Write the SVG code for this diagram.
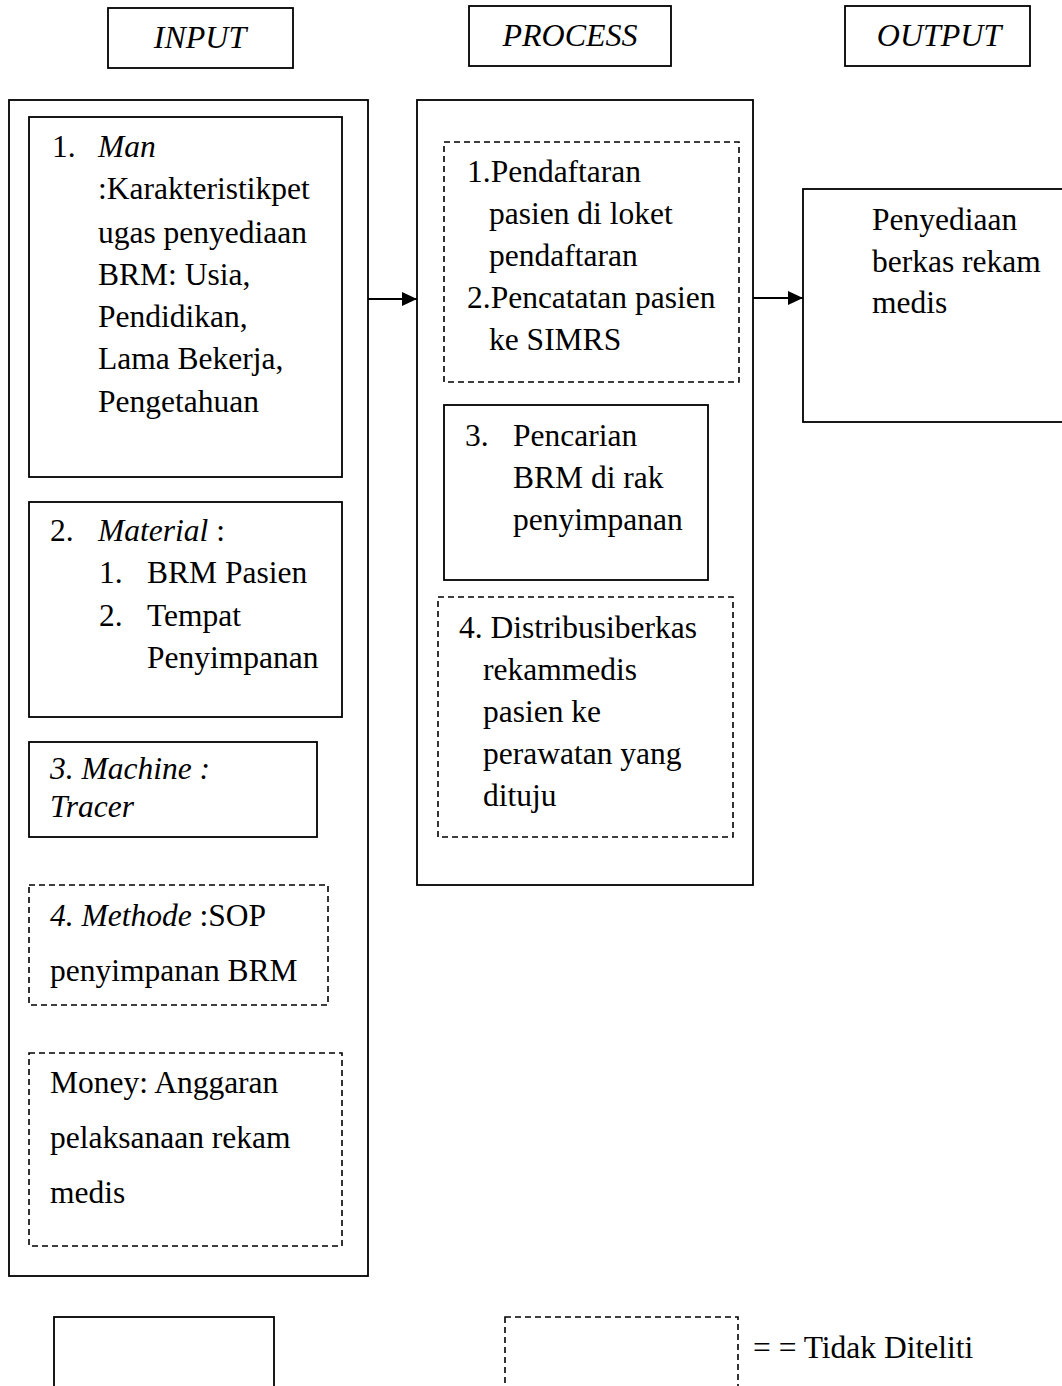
<svg xmlns="http://www.w3.org/2000/svg" width="1062" height="1386" viewBox="0 0 1062 1386">
<style>
  text { font-family: "Liberation Serif", "Times New Roman", serif; font-size: 31.5px; fill: #000; }
  .it { font-style: italic; }
  .hd { font-style: italic; font-size: 32px; text-anchor: middle; }
  .box { fill: #fff; stroke: #000; stroke-width: 1.8; }
  .dash { fill: #fff; stroke: #000; stroke-width: 1.6; stroke-dasharray: 6 4; }
  .conn { stroke: #000; stroke-width: 2; fill: none; }
</style>
<defs>
  <marker id="arr" markerWidth="16" markerHeight="16" refX="15" refY="8" orient="auto" markerUnits="userSpaceOnUse">
    <path d="M0,1 L15,8 L0,15 Z" fill="#000"/>
  </marker>
</defs>
<rect width="1062" height="1386" fill="#fff"/>

<g id="hdr-input"><rect class="box" x="108" y="8" width="185" height="60"/><text class="hd" x="200" y="48">INPUT</text></g>
<g id="hdr-process"><rect class="box" x="469" y="6" width="202" height="60"/><text class="hd" x="570" y="46">PROCESS</text></g>
<g id="hdr-output"><rect class="box" x="845" y="6" width="185" height="60"/><text class="hd" x="939" y="46">OUTPUT</text></g>

<g id="input-frame"><rect class="box" x="9" y="100" width="359" height="1176"/></g>

<g id="input-man">
  <rect class="box" x="29" y="117" width="313" height="360"/>
  <text x="52" y="157">1.</text>
  <text x="98" y="157" class="it">Man</text>
  <text x="98" y="199">:Karakteristikpet</text>
  <text x="98" y="243">ugas penyediaan</text>
  <text x="98" y="285">BRM: Usia,</text>
  <text x="98" y="327">Pendidikan,</text>
  <text x="98" y="369">Lama Bekerja,</text>
  <text x="98" y="412">Pengetahuan</text>
</g>

<g id="input-material">
  <rect class="box" x="29" y="502" width="313" height="215"/>
  <text x="50" y="541">2.</text>
  <text x="98" y="541"><tspan class="it">Material</tspan> :</text>
  <text x="99" y="583">1.</text>
  <text x="147" y="583">BRM Pasien</text>
  <text x="99" y="626">2.</text>
  <text x="147" y="626">Tempat</text>
  <text x="147" y="668">Penyimpanan</text>
</g>

<g id="input-machine">
  <rect class="box" x="29" y="742" width="288" height="95"/>
  <text x="50" y="779" class="it">3. Machine :</text>
  <text x="50" y="817" class="it">Tracer</text>
</g>

<g id="input-methode">
  <rect class="dash" x="29" y="885" width="299" height="120"/>
  <text x="50" y="926"><tspan class="it">4. Methode</tspan> :SOP</text>
  <text x="50" y="981">penyimpanan BRM</text>
</g>

<g id="input-money">
  <rect class="dash" x="29" y="1053" width="313" height="193"/>
  <text x="50" y="1093">Money: Anggaran</text>
  <text x="50" y="1148">pelaksanaan rekam</text>
  <text x="50" y="1203">medis</text>
</g>

<g id="process-frame"><rect class="box" x="417" y="100" width="336" height="785"/></g>

<g id="process-12">
  <rect class="dash" x="444" y="142" width="295" height="240"/>
  <text x="467" y="182">1.Pendaftaran</text>
  <text x="489" y="224">pasien di loket</text>
  <text x="489" y="266">pendaftaran</text>
  <text x="467" y="308">2.Pencatatan pasien</text>
  <text x="489" y="350">ke SIMRS</text>
</g>

<g id="process-3">
  <rect class="box" x="444" y="405" width="264" height="175"/>
  <text x="465" y="446">3.</text>
  <text x="513" y="446">Pencarian</text>
  <text x="513" y="488">BRM di rak</text>
  <text x="513" y="530">penyimpanan</text>
</g>

<g id="process-4">
  <rect class="dash" x="438" y="597" width="295" height="240"/>
  <text x="459" y="638">4. Distribusiberkas</text>
  <text x="483" y="680">rekammedis</text>
  <text x="483" y="722">pasien ke</text>
  <text x="483" y="764">perawatan yang</text>
  <text x="483" y="806">dituju</text>
</g>

<g id="output">
  <rect class="box" x="803" y="189" width="270" height="233"/>
  <text x="872" y="230">Penyediaan</text>
  <text x="872" y="272">berkas rekam</text>
  <text x="872" y="313">medis</text>
</g>

<g id="connectors">
  <line class="conn" x1="368" y1="299" x2="417" y2="299" marker-end="url(#arr)"/>
  <line class="conn" x1="753" y1="298" x2="803" y2="298" marker-end="url(#arr)"/>
</g>

<g id="legend-solid"><rect class="box" x="54" y="1317" width="220" height="100"/></g>
<g id="legend-dashed">
  <rect class="dash" x="505" y="1317" width="233" height="100"/>
  <text x="753" y="1358">= = Tidak Diteliti</text>
</g>
</svg>
